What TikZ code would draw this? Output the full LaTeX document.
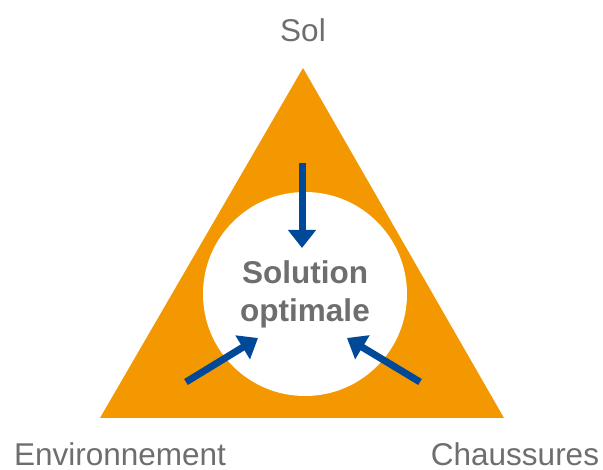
\documentclass[tikz,border=0pt]{standalone}
\usepackage{fontspec}
\setmainfont{Liberation Sans}
\usetikzlibrary{arrows.meta}
\definecolor{triorange}{RGB}{243,152,0}
\definecolor{arrowblue}{RGB}{0,72,152}
\definecolor{labelgray}{RGB}{110,110,110}
\tikzset{
  corner/.style={text=labelgray, font=\fontsize{31.5}{36}\selectfont, inner sep=0pt},
  centre/.style={circle, fill=white, minimum size=204pt, inner sep=0pt},
  centretext/.style={text=labelgray, font=\bfseries\fontsize{31.5}{38}\selectfont, align=center, inner sep=0pt},
  push/.style={draw=arrowblue, line width=7pt, -{Triangle[length=18pt, width=27pt]}}
}
\begin{document}
\begin{tikzpicture}[x=1pt, y=-1pt]
  \useasboundingbox (0,0) rectangle (603,470);
  % orange triangle
  \fill[triorange] (303,68) -- (504,418) -- (100,418) -- cycle;
  % white disc with the central text
  \node[centre] (disc) at (305,294) {};
  \node[centretext] (sol-opt) at (305,294) {Solution\\optimale};
  % corner labels
  \node[corner, anchor=base] (sol) at (303,42) {Sol};
  \node[corner, anchor=base] (env) at (120,466) {Environnement};
  \node[corner, anchor=base] (chau) at (515,466) {Chaussures};
  % arrow endpoints
  \coordinate (t0) at (302,163);
  \coordinate (t1) at (302,248);
  \coordinate (l0) at (186,382);
  \coordinate (l1) at (258,338);
  \coordinate (r0) at (420,382);
  \coordinate (r1) at (347,338);
  \draw[push] (t0) -- (t1);
  \draw[push] (l0) -- (l1);
  \draw[push] (r0) -- (r1);
\end{tikzpicture}
\end{document}
